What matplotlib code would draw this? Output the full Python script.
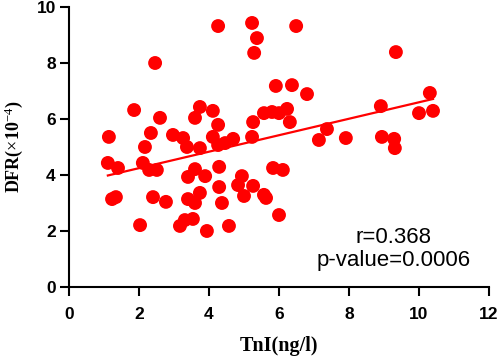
import numpy as np
import matplotlib
matplotlib.use("Agg")
import matplotlib.pyplot as plt

plt.rcParams["mathtext.fontset"] = "custom"
plt.rcParams["mathtext.rm"] = "Liberation Serif"
plt.rcParams["mathtext.bf"] = "Liberation Serif:bold"
plt.rcParams["mathtext.it"] = "Liberation Serif:italic"

tni = [4.26, 5.23, 5.37, 5.29, 6.49, 5.91, 6.37, 6.80, 2.46, 1.86,
       2.60, 1.14, 2.34, 2.17, 2.97, 3.26, 3.60, 3.74, 4.11, 4.26,
       5.26, 5.23, 5.57, 5.80, 6.00, 6.23, 6.31, 4.11, 3.37, 3.74,
       4.26, 4.46, 4.69, 7.37, 7.14, 7.91, 9.34, 8.91, 8.94, 9.29,
       9.31, 10.31, 10.00, 10.40, 1.11, 1.40, 2.11, 2.29, 2.51, 1.23,
       1.34, 2.40, 2.77, 2.03, 3.40, 3.60, 3.89, 4.29, 4.29, 3.40,
       3.74, 3.60, 4.37, 3.17, 3.31, 3.54, 3.94, 4.57, 4.94, 4.83,
       5.00, 5.26, 5.57, 5.63, 5.83, 6.11, 6.00]
dfr = [9.32, 9.43, 8.89, 8.36, 9.32, 7.18, 7.21, 6.89, 8.00, 6.32,
       6.04, 5.36, 5.50, 5.00, 5.43, 5.32, 6.04, 6.43, 6.29, 5.79,
       5.89, 5.36, 6.21, 6.25, 6.21, 6.36, 5.89, 5.36, 5.00, 4.96,
       5.07, 5.14, 5.29, 5.64, 5.25, 5.32, 8.39, 6.46, 5.36, 5.29,
       4.96, 6.93, 6.21, 6.29, 4.43, 4.25, 4.43, 4.18, 4.18, 3.14,
       3.21, 3.21, 3.04, 2.21, 3.93, 4.21, 3.96, 4.29, 3.57, 3.14,
       3.36, 3.00, 3.00, 2.18, 2.39, 2.43, 2.00, 2.18, 3.96, 3.64,
       3.25, 3.61, 3.29, 3.18, 4.25, 4.18, 2.57]

x_ticks = [0, 2, 4, 6, 8, 10, 12]
y_ticks = [0, 2, 4, 6, 8, 10]
stats_text = "r=0.368\np-value=0.0006"

fig = plt.figure(figsize=(5.0, 3.59), dpi=100)
ax = fig.add_axes([0.138, 0.2006, 0.84, 0.7799])

ax.scatter(tni, dfr, s=100, color="#ff0000", edgecolors="none", zorder=3)

slope, intercept = np.polyfit(tni, dfr, 1)
xs = np.array([min(tni), max(tni)])
ax.plot(xs, slope * xs + intercept, color="#ff0000", lw=1.6, zorder=2)

ax.set_xlim(0, 12)
ax.set_ylim(0, 10)
ax.set_xticks(x_ticks)
ax.set_yticks(y_ticks)
for s in ["top", "right"]:
    ax.spines[s].set_visible(False)
for s in ["left", "bottom"]:
    ax.spines[s].set_linewidth(1.5)
    ax.spines[s].set_color("black")
ax.tick_params(direction="out", length=6.5, width=1.5, colors="black")
ax.tick_params(axis="x", pad=8)
ax.tick_params(axis="y", pad=3)
for lab in ax.get_xticklabels() + ax.get_yticklabels():
    lab.set_fontfamily("Liberation Sans")
    lab.set_fontweight("bold")
    lab.set_fontsize(12.5)

ax.set_xlabel("TnI(ng/l)", fontfamily="Liberation Serif", fontweight="bold",
              fontsize=14.5, labelpad=10)
ax.set_ylabel(r"DFR($\times$10$^{-4}$)", fontfamily="Liberation Serif",
              fontweight="bold", fontsize=13, labelpad=8)

ax.text(0.773, 0.136, stats_text, transform=ax.transAxes, ha="center",
        va="center", fontsize=16, fontfamily="Liberation Sans",
        linespacing=1.1)

fig.savefig("out.png", dpi=100)
